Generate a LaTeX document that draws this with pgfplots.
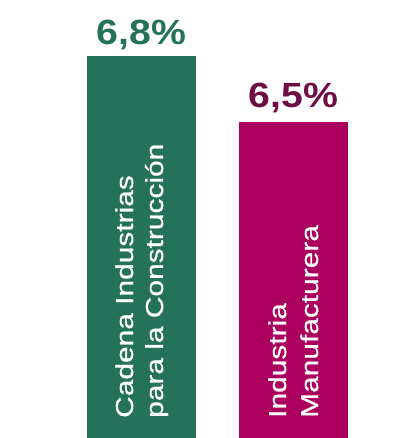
\documentclass[border=0pt]{standalone}
\usepackage{pgfplots}
\pgfplotsset{compat=1.18}
\usepackage{fontspec}
\setmainfont{Liberation Sans}
\newfontfamily\barfont[FakeStretch=1.22, FakeBold=0.7]{Liberation Sans}
\newfontfamily\valfont[FakeStretch=1.12]{Liberation Sans}

\definecolor{cgreen}{HTML}{24725A}
\definecolor{cmag}{HTML}{AB005E}
\definecolor{cmagdark}{HTML}{6D0F46}

\begin{document}
\begin{tikzpicture}
    \begin{axis}[
            scale only axis,
            width = 411pt,
            height = 438pt,
            hide axis,
            ybar,
            bar width = 0.717,
            bar shift = 0pt,
            xmin = -0.9309, xmax = 1.7730,
            ymin = 5.0636, ymax = 7.0545,
            nodes near coords = {\pgfmathprintnumber[fixed, fixed zerofill, precision=1, use comma, assume math mode=true]{\pgfplotspointmeta}\%},
            every node near coord/.append style = {
                anchor = base, inner sep = 0pt,
                font = \valfont\bfseries\fontsize{35}{40}\selectfont},
            ]
        % invisible frame so the page is the whole picture
        \path (rel axis cs:0,0) rectangle (rel axis cs:1,1);

        \addplot[fill = cgreen, draw = none,
            every node near coord/.append style = {text = cgreen, yshift = 11pt}]
            coordinates {(0,6.8)};
        \addplot[fill = cmag, draw = none,
            every node near coord/.append style = {text = cmagdark, yshift = 14pt}]
            coordinates {(1,6.5)};

        \begin{scope}[every node/.style = {rotate = 90, anchor = base west, inner sep = 0pt,
                text = white, font = \barfont\fontsize{24.5}{30}\selectfont}]
            \node at (axis cs:-0.0559,5.1545) {Cadena Industrias};
            \node at (axis cs:0.1414,5.1545) {para la Construcción};
            \node at (axis cs:0.9507,5.1545) {Industria};
            \node at (axis cs:1.1612,5.1545) {Manufacturera};
        \end{scope}
    \end{axis}
\end{tikzpicture}
\end{document}
